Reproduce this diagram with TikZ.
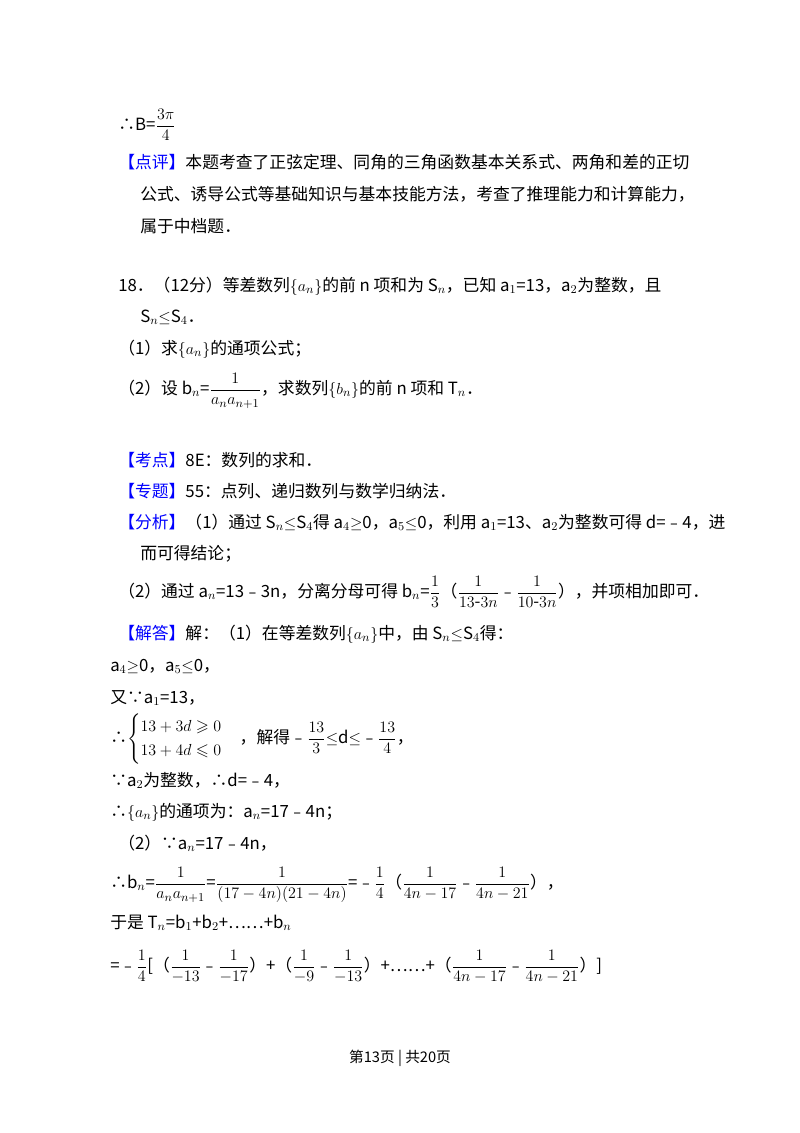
\documentclass[tikz,border=0pt]{standalone}
\usepackage{amsmath,amssymb}
\usepackage{fontspec}
\setmainfont{Noto Sans CJK SC}
\begin{document}
\begin{tikzpicture}[x=0.75pt,y=-0.75pt,
  ln/.style={anchor=base west,inner sep=0pt,font=\fontsize{12.6}{15}\selectfont},
  lab/.style={text=blue!85!black}]
\useasboundingbox[fill=white] (0,0) rectangle (800,1133);
\node[ln] (l1) at (118,130) {∴B=$\dfrac{3\pi}{4}$};
\node[ln] (l2) at (118,168) {\textcolor{blue}{【点评】}本题考查了正弦定理、同角的三角函数基本关系式、两角和差的正切};
\node[ln] (l3) at (140,200) {公式、诱导公式等基础知识与基本技能方法，考查了推理能力和计算能力，};
\node[ln] (l4) at (140,232) {属于中档题．};
\node[ln] (l5) at (118,291) {18．（12分）等差数列$\{a_n\}$的前 n 项和为 S$_n$，已知 a$_1$=13，a$_2$为整数，且};
\node[ln] (l6) at (140,322) {S$_n$$\le$S$_4$．};
\node[ln] (l7) at (118,354) {（1）求$\{a_n\}$的通项公式；};
\node[ln] (l8) at (118,394) {（2）设 b$_n$=$\dfrac{1}{a_na_{n+1}}$，求数列$\{b_n\}$的前 n 项和 T$_n$．};
\node[ln] (l9) at (118,466) {\textcolor{blue}{【考点】}8E：数列的求和．};
\node[ln] (l10) at (118,497) {\textcolor{blue}{【专题】}55：点列、递归数列与数学归纳法．};
\node[ln] (l11) at (118,528) {\textcolor{blue}{【分析】}（1）通过 S$_n$$\le$S$_4$得 a$_4$$\ge$0，a$_5$$\le$0，利用 a$_1$=13、a$_2$为整数可得 d=﹣4，进};
\node[ln] (l12) at (140,559) {而可得结论；};
\node[ln] (l13) at (118,597) {（2）通过 a$_n$=13﹣3n，分离分母可得 b$_n$=$\dfrac13$（$\dfrac{1}{13\text{-}3n}$﹣$\dfrac{1}{10\text{-}3n}$），并项相加即可．};
\node[ln] (l14) at (118,639) {\textcolor{blue}{【解答】}解：（1）在等差数列$\{a_n\}$中，由 S$_n$$\le$S$_4$得：};
\node[ln] (l15) at (110,671) {a$_4$$\ge$0，a$_5$$\le$0，};
\node[ln] (l16) at (110,703) {又∵a$_1$=13，};
\node[ln] (l17) at (110,743) {∴$\begin{cases}13+3d\geqslant0\\13+4d\leqslant0\end{cases}$，解得﹣$\dfrac{13}{3}$$\le$d$\le$﹣$\dfrac{13}{4}$，};
\node[ln] (l18) at (110,786) {∵a$_2$为整数，∴d=﹣4，};
\node[ln] (l19) at (110,817) {∴$\{a_n\}$的通项为：a$_n$=17﹣4n；};
\node[ln] (l20) at (118,849) {（2）∵a$_n$=17﹣4n，};
\node[ln] (l21) at (110,888) {∴b$_n$=$\dfrac{1}{a_na_{n+1}}$=$\dfrac{1}{(17-4n)(21-4n)}$=﹣$\dfrac14$（$\dfrac{1}{4n-17}$﹣$\dfrac{1}{4n-21}$），};
\node[ln] (l22) at (110,928) {于是 T$_n$=b$_1$+b$_2$+……+b$_n$};
\node[ln] (l23) at (110,971) {=﹣$\dfrac14$[（$\dfrac{1}{-13}$﹣$\dfrac{1}{-17}$）+（$\dfrac{1}{-9}$﹣$\dfrac{1}{-13}$）+……+（$\dfrac{1}{4n-17}$﹣$\dfrac{1}{4n-21}$）]};
\node[anchor=base,inner sep=0pt,font=\fontsize{11}{13}\selectfont] (ft) at (400,1062) {第13页 | 共20页};
\end{tikzpicture}
\end{document}
